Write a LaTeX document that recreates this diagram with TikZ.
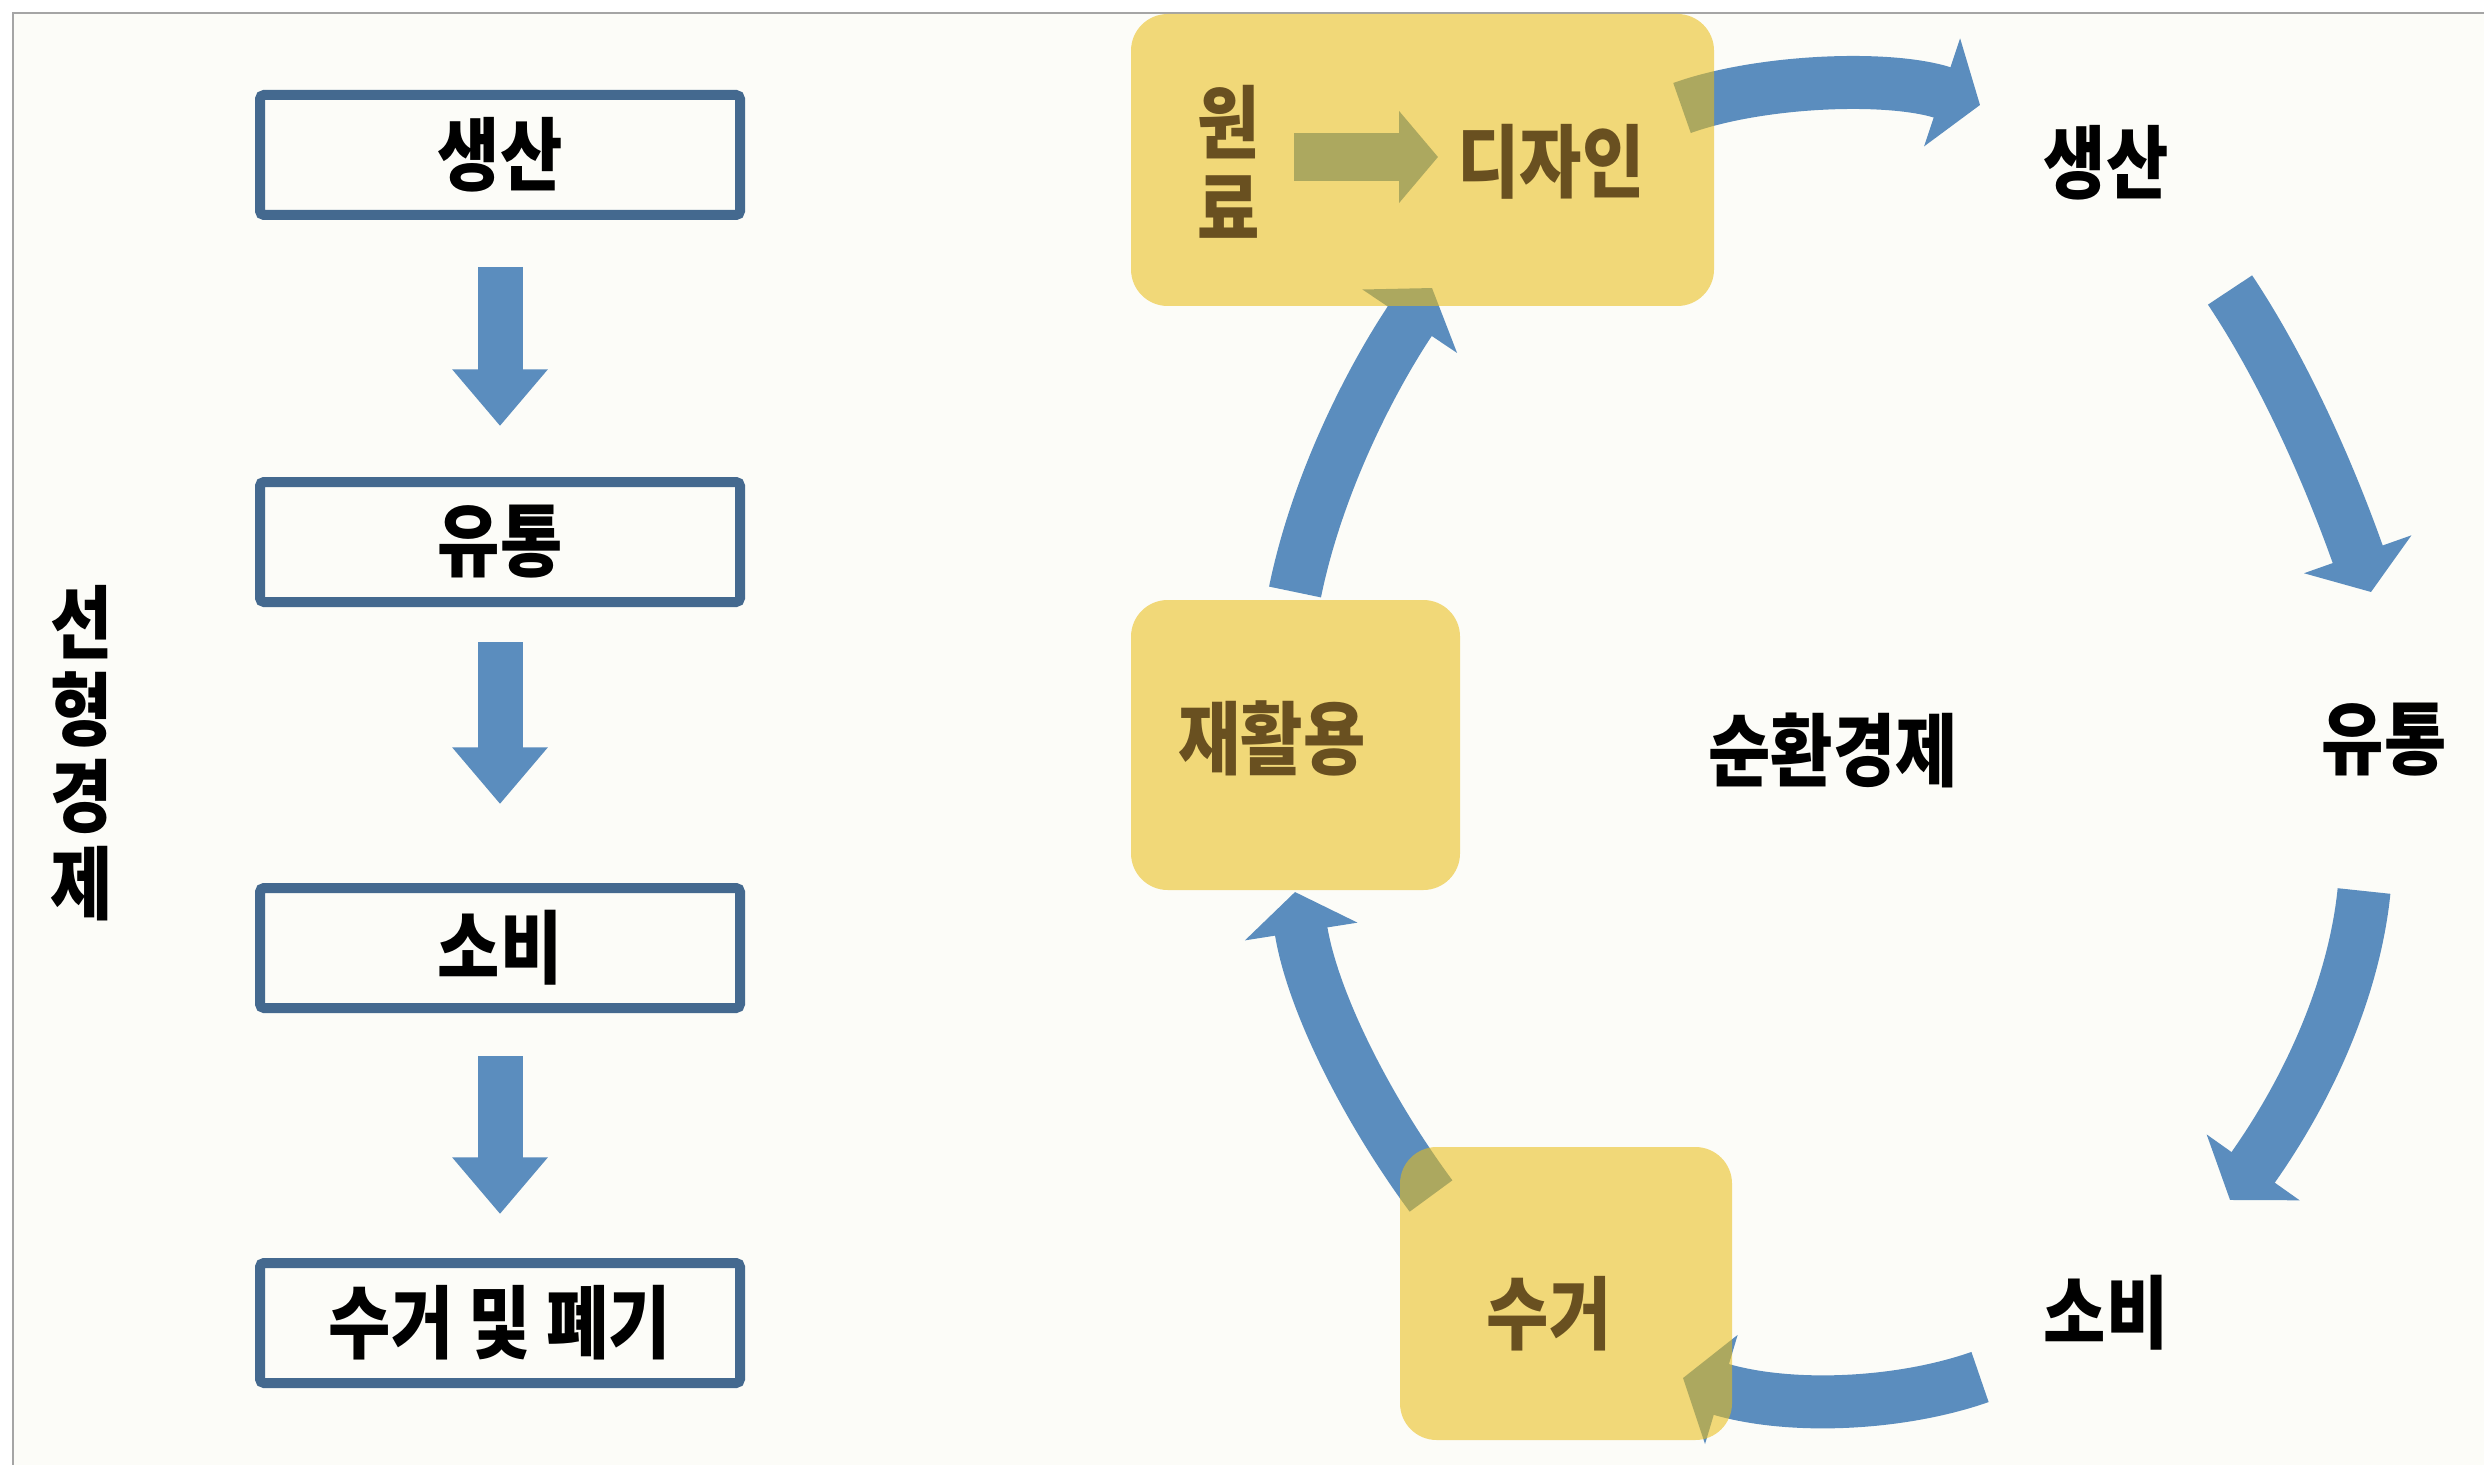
\documentclass[tikz,border=0pt]{standalone}
\usepackage{fontspec}
\setmainfont{Noto Sans CJK KR}
\usetikzlibrary{arrows.meta}
\definecolor{bgc}{RGB}{252,252,248}
\definecolor{framec}{RGB}{165,165,165}
\definecolor{boxline}{RGB}{68,105,143}
\definecolor{arrowblue}{RGB}{91,141,190}
\definecolor{gold}{RGB}{234,189,23}
\definecolor{browntext}{RGB}{105,80,32}
\newcommand{\hsq}[1]{\scalebox{0.85}[1]{#1}}
\begin{document}
\begin{tikzpicture}[x=0.3pt,y=-0.3pt,
  krfont/.style={font=\bfseries\fontsize{23.9pt}{27pt}\selectfont},
  lbox/.style={draw=boxline, line width=3pt, minimum width=144pt, minimum height=36pt, inner sep=0pt, rounded corners=1.2pt, krfont, text=black},
  larrow/.style={draw=arrowblue, line width=13.5pt, -{Triangle[width=27.6pt,length=17pt]}},
  carrow/.style={draw=arrowblue, line width=15.9pt, -{Triangle[width=33.6pt,length=12pt]}},
  ybox/.style={fill=gold, fill opacity=0.57, rounded corners=11pt, inner sep=0pt, draw=none},
  btext/.style={krfont, text=black, inner sep=0pt},
  brtext/.style={krfont, text=browntext, inner sep=0pt},
  vtext/.style={align=center, inner sep=0pt}
]
\useasboundingbox (0,0) rectangle (2484,1465);
\fill[white] (0,0) rectangle (2484,1465);
\fill[bgc] (13,13) rectangle (2484,1465);
\draw[framec, line width=0.6pt] (13,1465) -- (13,13) -- (2484,13);

% ---- linear economy (left) ----
\node[lbox] (b1) at (500,155) {\raisebox{-1.5pt}{\hsq{생산}}};
\node[lbox] (b2) at (500,542) {\raisebox{-1.5pt}{\hsq{유통}}};
\node[lbox] (b3) at (500,948) {\raisebox{-1.5pt}{\hsq{소비}}};
\node[lbox] (b4) at (500,1323) {\raisebox{-1.5pt}{\hsq{수거 및 폐기}}};
\draw[larrow, shorten <=14.1pt, shorten >=15.3pt] (b1.south) -- (b2.north);
\draw[larrow, shorten <=10.5pt, shorten >=23.7pt] (b2.south) -- (b3.north);
\draw[larrow, shorten <=12.9pt, shorten >=13.2pt] (b3.south) -- (b4.north);
\node[btext, vtext, font=\bfseries\fontsize{23.9pt}{26.1pt}\selectfont] (linear) at (82,753) {\hsq{선}\\\hsq{형}\\\hsq{경}\\\hsq{제}};

% ---- circular economy (right): connector end points ----
\coordinate (s0) at (1294,157);  \coordinate (e0) at (1438,157);
\coordinate (sa) at (1682,108);  \coordinate (ea) at (1980,105);
\coordinate (sb) at (2230,290);  \coordinate (eb) at (2371,592);
\coordinate (sc) at (2364,891);  \coordinate (ec) at (2230,1200);
\coordinate (sd) at (1980,1377); \coordinate (ed) at (1683,1378);
\coordinate (se) at (1431,1196); \coordinate (ee) at (1295,892);
\coordinate (sf) at (1295,592);  \coordinate (ef) at (1432,288);

\draw[draw=arrowblue, line width=14.4pt, -{Triangle[width=27pt,length=11.7pt]}] (s0) -- (e0);
\draw[carrow] (sa) .. controls (1760,80) and (1890,75) .. (ea);
\draw[carrow] (sb) .. controls (2290,380) and (2335,490) .. (eb);
\draw[carrow] (sc) .. controls (2355,980) and (2315,1080) .. (ec);
\draw[carrow] (sd) .. controls (1900,1405) and (1790,1410) .. (ed);
\draw[carrow] (se) .. controls (1366,1108) and (1312,1000) .. (ee);
\draw[carrow] (sf) .. controls (1317,484) and (1371,379) .. (ef);

% yellow boxes (semi-transparent, over the arrows)
\node[ybox, minimum width=174.9pt, minimum height=87.6pt] (design) at (1422.5,160) {};
\node[ybox, minimum width=98.7pt, minimum height=87pt] (recyclebox) at (1295.5,745) {};
\node[ybox, minimum width=99.6pt, minimum height=87.9pt] (collectbox) at (1566,1293.5) {};

% texts
\node[brtext, vtext, font=\bfseries\fontsize{23.9pt}{25.8pt}\selectfont] (wonryo) at (1229,162) {\hsq{원}\\\hsq{료}};
\node[brtext] (designtxt) at (1551,162) {\hsq{디자인}};
\node[brtext] (recycle) at (1272,738) {\hsq{재활용}};
\node[brtext] (collect) at (1549,1314) {\hsq{수거}};
\node[btext] (prod) at (2106,163) {\hsq{생산}};
\node[btext] (dist) at (2384,740) {\hsq{유통}};
\node[btext] (cons) at (2106,1313) {\hsq{소비}};
\node[btext] (circ) at (1833,750) {\hsq{순환경제}};
\end{tikzpicture}
\end{document}
